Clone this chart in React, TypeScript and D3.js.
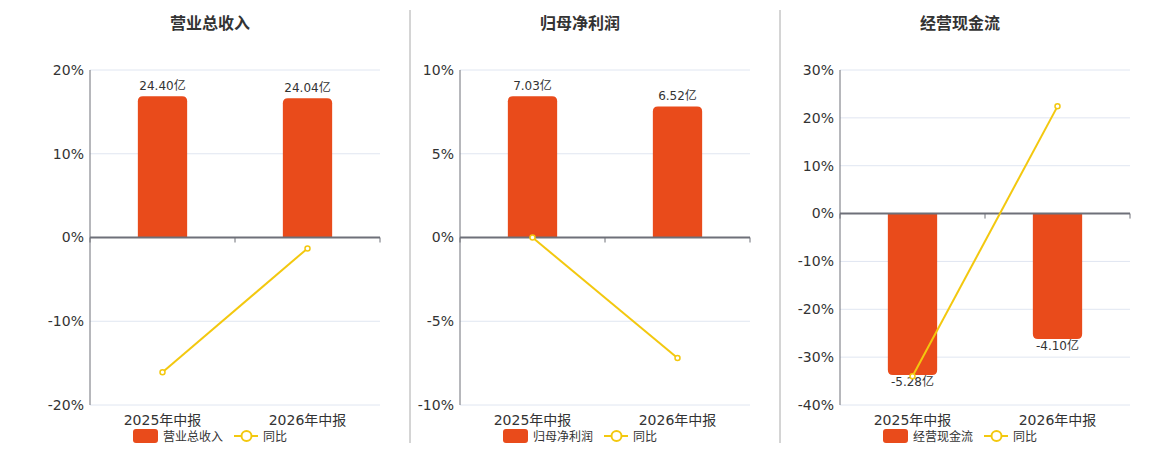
import React from 'react';
import * as d3 from 'd3';

const categories = ['2025年中报', '2026年中报'];

const titles = ['营业总收入', '归母净利润', '经营现金流'];
const revenue = [24.4, 24.04];
const revenueYoY = [-16.1, -1.3];
const profit = [7.03, 6.52];
const profitYoY = [0, -7.2];
const cash = [-5.28, -4.1];
const cashYoY = [-34.0, 22.4];

const revenueTicks = [-20, -10, 0, 10, 20];
const profitTicks = [-10, -5, 0, 5, 10];
const cashTicks = [-40, -30, -20, -10, 0, 10, 20, 30];

const panels = [
  { title: titles[0], bars: revenue, yoy: revenueYoY, ticks: revenueTicks },
  { title: titles[1], bars: profit, yoy: profitYoY, ticks: profitTicks },
  { title: titles[2], bars: cash, yoy: cashYoY, ticks: cashTicks },
];

const W = 1160;
const H = 450;
const plotLefts = [90, 460, 840];
const plotW = 290;
const plotTop = 70;
const plotBottom = 405;
const titleCenters = [210, 580, 960];
const separators = [410, 780];

const BAR = '#e94b1b';
const LINE = '#f3c80f';
const AXIS = '#6e7079';
const GRID = '#e0e6f1';
const TEXT = '#333';
const FONT = '"DejaVu Sans", "Noto Sans CJK SC", sans-serif';
const CJK = '"Noto Sans CJK SC", "DejaVu Sans", sans-serif';

function barPath(x: number, w: number, y0: number, y1: number, r: number) {
  const h = Math.abs(y1 - y0);
  const rr = Math.min(r, h, w / 2);
  if (y1 < y0) {
    return `M${x},${y0}V${y1 + rr}Q${x},${y1} ${x + rr},${y1}H${x + w - rr}Q${x + w},${y1} ${x + w},${y1 + rr}V${y0}Z`;
  }
  return `M${x},${y0}V${y1 - rr}Q${x},${y1} ${x + rr},${y1}H${x + w - rr}Q${x + w},${y1} ${x + w},${y1 - rr}V${y0}Z`;
}

function Panel({ p, i }: { p: typeof panels[number]; i: number }) {
  const left = plotLefts[i];
  const right = left + plotW;
  const x = d3.scaleBand<string>().domain(categories).range([left, right]);
  const ext = d3.extent(p.ticks) as [number, number];
  const y = d3.scaleLinear().domain(ext).range([plotBottom, plotTop]);
  const y0 = y(0);
  const maxAbs = d3.max(p.bars, (v) => Math.abs(v)) as number;
  const neg = (d3.min(p.bars) as number) < 0;
  const edge = neg ? plotBottom : plotTop;
  const yb = d3.scaleLinear().domain([0, (neg ? -1 : 1) * maxAbs * 1.185]).range([y0, edge]);
  const bw = x.bandwidth() * 0.34;
  const cx = (c: string) => (x(c) as number) + x.bandwidth() / 2;
  const line = d3
    .line<number>()
    .x((_, k) => cx(categories[k]))
    .y((v) => y(v));
  const tc = titleCenters[i];
  return (
    <g>
      <text x={tc} y={29} textAnchor="middle" fontFamily={CJK} fontWeight="bold" fontSize={16} fill={TEXT}>
        {p.title}
      </text>
      {p.ticks.map((t) => (
        <g key={t}>
          {t !== 0 && <line x1={left} x2={right} y1={y(t)} y2={y(t)} stroke={GRID} strokeWidth={1} />}
          <text x={left - 6} y={y(t)} dy="0.35em" textAnchor="end" fontFamily={FONT} fontSize={14} fill={TEXT}>
            {t}%
          </text>
        </g>
      ))}
      <line x1={left} x2={left} y1={plotTop} y2={plotBottom} stroke={AXIS} strokeWidth={1} />
      {p.bars.map((v, k) => {
        const c = categories[k];
        const bx = cx(c) - bw / 2;
        const top = yb(v);
        return (
          <g key={c}>
            <path d={barPath(bx, bw, y0, top, 5)} fill={BAR} />
            <text
              x={cx(c)}
              y={v >= 0 ? top - 6 : top + 11}
              textAnchor="middle"
              fontFamily={FONT}
              fontSize={12}
              fill={TEXT}
            >
              {v.toFixed(2)}亿
            </text>
          </g>
        );
      })}
      <line x1={left} x2={right} y1={y0} y2={y0} stroke={AXIS} strokeWidth={2} />
      {[left, left + x.bandwidth(), right].map((tx) => (
        <line key={tx} x1={tx} x2={tx} y1={y0} y2={y0 + 5} stroke={AXIS} strokeWidth={1} />
      ))}
      <path d={line(p.yoy) as string} fill="none" stroke={LINE} strokeWidth={2} />
      {p.yoy.map((v, k) => (
        <circle key={k} cx={cx(categories[k])} cy={y(v)} r={2.5} fill="#fff" stroke={LINE} strokeWidth={1.5} />
      ))}
      {categories.map((c) => (
        <text key={c} x={cx(c)} y={425} textAnchor="middle" fontFamily={FONT} fontSize={14} fill={TEXT}>
          {c}
        </text>
      ))}
      <g>
        <rect x={tc - 77} y={429} width={25} height={14} rx={3} fill={BAR} />
        <text x={tc - 47} y={440.5} fontFamily={CJK} fontSize={12} fill={TEXT}>
          {p.title}
        </text>
        <line x1={tc + 24} x2={tc + 48} y1={436} y2={436} stroke={LINE} strokeWidth={2} />
        <circle cx={tc + 36.5} cy={436} r={5} fill="#fff" stroke={LINE} strokeWidth={2} />
        <text x={tc + 53} y={440.5} fontFamily={CJK} fontSize={12} fill={TEXT}>
          同比
        </text>
      </g>
    </g>
  );
}

export default function App() {
  return (
    <svg
      width={W}
      height={H}
      viewBox={`0 0 ${W} ${H}`}
      style={{ position: 'absolute', left: 0, top: 0, background: '#fff' }}
    >
      {separators.map((sx) => (
        <line key={sx} x1={sx} x2={sx} y1={10} y2={443} stroke="#aaa" strokeWidth={1} />
      ))}
      {panels.map((p, i) => (
        <Panel key={p.title} p={p} i={i} />
      ))}
    </svg>
  );
}
